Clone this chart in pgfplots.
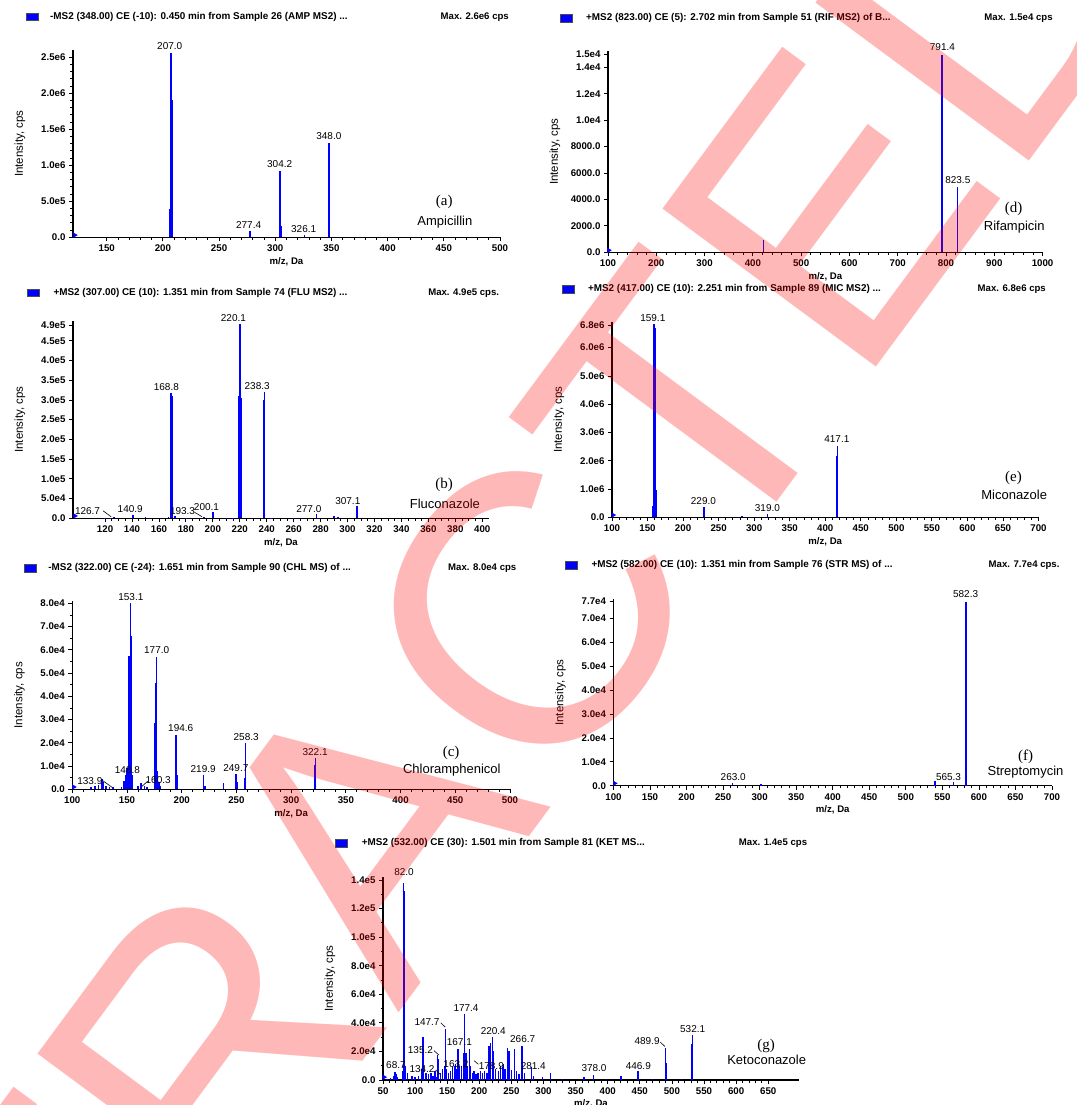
\documentclass[border=0pt]{standalone}
\usepackage{fontspec}
\setmainfont{Liberation Sans}
\newfontfamily\seriffont{Liberation Serif}
\usepackage{pgfplots}
\pgfplotsset{compat=1.18}
\definecolor{msblue}{RGB}{0,0,255}
\newcommand\tl{\bfseries\fontsize{9.7}{10}\selectfont}
\newcommand\pl{\bfseries\fontsize{9.8}{10}\selectfont}
\newcommand\hd{\bfseries\fontsize{9.9}{10}\selectfont}
\newcommand\mx{\bfseries\fontsize{9.6}{10}\selectfont}
\newcommand\cn{\fontsize{13}{13}\selectfont}
\tikzset{lead/.style={black, line width=0.6pt}}
\pgfplotsset{
 ms/.style={
  scale only axis, axis lines=left,
  axis line style={-, black, line width=1.2pt},
  tick align=outside, major tick length=4pt, minor tick length=2.5pt,
  every tick/.style={black, line width=0.8pt},
  ymin=0, clip=false, scaled x ticks=false, scaled y ticks=false,
  tick label style={font=\tl},
  /pgf/number format/assume math mode=true,
  x tick label style={/pgf/number format/.cd, 1000 sep={}, fixed},
  xlabel={m/z, Da}, ylabel={Intensity, cps},
  x label style={at={([yshift=-24pt]axis description cs:0.5,0)}, anchor=center, font=\bfseries\fontsize{9.6}{10}\selectfont},
  y label style={at={([xshift=-53pt]axis description cs:0,0.5)}, anchor=center, font=\fontsize{11.5}{12}\selectfont},
  minor x tick num=4,
  every node/.append style={font=\pl},
 },
 stick/.style={msblue, ycomb, line width=1.6pt, no marks},
 origin/.style={msblue, only marks, mark=triangle*, mark size=2.6pt, mark options={rotate=-90}},
}
\begin{document}
\begin{tikzpicture}[x=1pt,y=1pt]
\useasboundingbox (0,0) rectangle (1076,1105);

% ---------- (a) Ampicillin ----------
\fill[msblue, draw=black!70, line width=0.4pt] (26,1084.5) rectangle (38,1092);
\node[anchor=west, font=\hd, inner sep=0] at (50,1088.3) {-MS2 (348.00) CE (-10): 0.450 min from Sample 26 (AMP MS2) ...};
\node[anchor=east, font=\mx, inner sep=0] at (509,1088.3) {Max. 2.6e6 cps};
\begin{axis}[ms, at={(73pt,867.7pt)}, anchor=south west, width=427pt, height=187.2pt,
  xmin=120, xmax=500, ymax=2.6e6, xtick={150,200,...,500},
  ytick={0,5e5,1e6,1.5e6,2e6,2.5e6}, yticklabels={0.0,5.0e5,1.0e6,1.5e6,2.0e6,2.5e6},
  minor y tick num=4]
\addplot[stick] coordinates {(206,0.39e6)(207,2.564e6)(208,1.907e6)(277.4,0.088e6)(303.6,0.57e6)(304.2,0.925e6)(305,0.15e6)(326.1,0.025e6)(347.6,1.28e6)(348,1.314e6)};
\addplot[origin] coordinates {(121.5,0.03e6)};
\node at (axis cs:206.1,2.661e6) {207.0};
\node at (axis cs:276.3,0.171e6) {277.4};
\node at (axis cs:303.9,1.014e6) {304.2};
\node at (axis cs:325.3,0.111e6) {326.1};
\node at (axis cs:347.7,1.407e6) {348.0};
\end{axis}
\node[font=\seriffont\fontsize{15}{15}\selectfont] at (444.2,903.3) {(a)};
\node[font=\cn] at (444.9,882.7) {Ampicillin};

% ---------- (d) Rifampicin ----------
\fill[msblue, draw=black!70, line width=0.4pt] (560.5,1083) rectangle (572.5,1090.5);
\node[anchor=west, font=\hd, inner sep=0] at (586,1086.7) {+MS2 (823.00) CE (5): 2.702 min from Sample 51 (RIF MS2) of B...};
\node[anchor=east, font=\mx, inner sep=0] at (1052.8,1086.7) {Max. 1.5e4 cps};
\begin{axis}[ms, at={(608pt,852.7pt)}, anchor=south west, width=434.6pt, height=200.9pt,
  xmin=100, xmax=1000, ymax=15200, xtick={100,200,...,1000},
  ytick={0,2000,4000,6000,8000,10000,12000,14000,15000},
  yticklabels={0.0,2000.0,4000.0,6000.0,8000.0,1.0e4,1.2e4,1.4e4,1.5e4},
  minor y tick num=3]
\addplot[stick, line width=1.3pt] coordinates {(422,930)(791.4,14950)(823.5,4960)};
\addplot[origin] coordinates {(101.5,150)};
\node at (axis cs:792.5,15500) {791.4};
\node at (axis cs:824.4,5470) {823.5};
\end{axis}
\node[font=\seriffont\fontsize{15}{15}\selectfont] at (1013.5,895.7) {(d)};
\node[font=\cn] at (1014.2,877.7) {Rifampicin};

% ---------- (b) Fluconazole ----------
\fill[msblue, draw=black!70, line width=0.4pt] (27.5,808.5) rectangle (39.6,816);
\node[anchor=west, font=\hd, inner sep=0] at (53.4,812.3) {+MS2 (307.00) CE (10): 1.351 min from Sample 74 (FLU MS2) ...};
\node[anchor=east, font=\mx, inner sep=0] at (499.3,812.3) {Max. 4.9e5 cps.};
\begin{axis}[ms, at={(73pt,586.7pt)}, anchor=south west, width=416pt, height=197.3pt,
  xmin=96.2, xmax=405, ymax=5.0e5, xtick={120,140,...,400}, minor x tick num=3,
  ytick={0,5e4,1e5,1.5e5,2e5,2.5e5,3e5,3.5e5,4e5,4.5e5,4.9e5},
  yticklabels={0.0,5.0e4,1.0e5,1.5e5,2.0e5,2.5e5,3.0e5,3.5e5,4.0e5,4.5e5,4.9e5},
  minor y tick num=1]
\addplot[stick] coordinates {(120,0.01e5)(124,0.02e5)(126.7,0.03e5)(140.9,0.08e5)(150,0.03e5)(167,0.04e5)(168.8,3.17e5)(169.6,3.1e5)(172,0.05e5)(180,0.01e5)(193.3,0.03e5)(200.1,0.165e5)(210,0.02e5)(215,0.01e5)(219.4,3.1e5)(220.1,4.93e5)(220.9,3.05e5)(237.6,3.0e5)(238.3,3.21e5)(243,0.02e5)(260,0.01e5)(277,0.1e5)(290,0.06e5)(293,0.03e5)(307.1,0.31e5)};
\addplot[origin] coordinates {(97.6,0.06e5)};
\node at (axis cs:107,0.193e5) {126.7};
\draw[lead] (axis cs:118.5,0.19e5) -- (axis cs:124.5,0.04e5);
\node at (axis cs:138.7,0.228e5) {140.9};
\node at (axis cs:165.5,3.32e5) {168.8};
\node at (axis cs:177.5,0.185e5) {193.3};
\draw[lead] (axis cs:186.5,0.15e5) -- (axis cs:192,0.04e5);
\node at (axis cs:195.3,0.294e5) {200.1};
\node at (axis cs:215.3,5.07e5) {220.1};
\node at (axis cs:232.9,3.35e5) {238.3};
\node at (axis cs:271.3,0.243e5) {277.0};
\node at (axis cs:300.2,0.44e5) {307.1};
\end{axis}
\node[font=\seriffont\fontsize{15}{15}\selectfont] at (444.2,620) {(b)};
\node[font=\cn] at (444.9,601) {Fluconazole};

% ---------- (e) Miconazole ----------
\fill[msblue, draw=black!70, line width=0.4pt] (562,811.9) rectangle (574,819.4);
\node[anchor=west, font=\hd, inner sep=0] at (587.9,815.7) {+MS2 (417.00) CE (10): 2.251 min from Sample 89 (MIC MS2) ...};
\node[anchor=east, font=\mx, inner sep=0] at (1046,815.7) {Max. 6.8e6 cps};
\begin{axis}[ms, at={(612pt,587.7pt)}, anchor=south west, width=426.5pt, height=195.1pt,
  xmin=100, xmax=700, ymax=6.9e6, xtick={100,150,...,700},
  ytick={0,1e6,2e6,3e6,4e6,5e6,6e6,6.8e6},
  yticklabels={0.0,1.0e6,2.0e6,3.0e6,4.0e6,5.0e6,6.0e6,6.8e6},
  minor y tick num=4]
\addplot[stick] coordinates {(157.5,0.4e6)(158.6,6.7e6)(159.1,6.83e6)(160.2,6.7e6)(161,1.86e6)(162,0.95e6)(228.5,0.3e6)(229,0.38e6)(283,0.05e6)(319,0.12e6)(416.3,2.18e6)(417.1,2.53e6)};
\addplot[origin] coordinates {(101.5,0.08e6)};
\node at (axis cs:157.4,7.04e6) {159.1};
\node at (axis cs:228.6,0.59e6) {229.0};
\node at (axis cs:318.6,0.34e6) {319.0};
\node at (axis cs:416.3,2.76e6) {417.1};
\end{axis}
\node[font=\seriffont\fontsize{15}{15}\selectfont] at (1013.5,626.7) {(e)};
\node[font=\cn] at (1014.2,610) {Miconazole};

% ---------- (c) Chloramphenicol ----------
\fill[msblue, draw=black!70, line width=0.4pt] (24,532.9) rectangle (36,540.4);
\node[anchor=west, font=\hd, inner sep=0] at (48.2,536.7) {-MS2 (322.00) CE (-24): 1.651 min from Sample 90 (CHL MS) of ...};
\node[anchor=east, font=\mx, inner sep=0] at (516.5,536.7) {Max. 8.0e4 cps};
\begin{axis}[ms, at={(72.3pt,315.7pt)}, anchor=south west, width=437.7pt, height=188.3pt,
  xmin=100, xmax=500, ymax=8.1e4, xtick={100,150,...,500},
  ytick={0,1e4,2e4,3e4,4e4,5e4,6e4,7e4,8e4},
  yticklabels={0.0,1.0e4,2.0e4,3.0e4,4.0e4,5.0e4,6.0e4,7.0e4,8.0e4},
  minor y tick num=1]
\addplot[stick] coordinates {(117,0.1e4)(121,0.15e4)(124,0.2e4)(127,0.45e4)(128,0.3e4)(131,0.15e4)(134,0.12e4)(137,0.08e4)(145,0.1e4)(147,0.35e4)(148.8,0.6e4)(150,0.9e4)(152,5.75e4)(153.1,8.0e4)(154,6.6e4)(155,0.6e4)(160.3,0.15e4)(163,0.25e4)(166,0.15e4)(168,0.1e4)(175.8,2.86e4)(176.3,4.56e4)(177,5.7e4)(178,0.8e4)(179,0.3e4)(180,0.15e4)(194.2,2.0e4)(194.6,2.34e4)(196,0.6e4)(219.9,0.62e4)(221,0.15e4)(238,0.25e4)(249.7,0.64e4)(250.5,0.3e4)(257.5,0.5e4)(258.3,1.98e4)(321.5,1.05e4)(322.1,1.36e4)};
\addplot[origin] coordinates {(101.3,0.1e4)};
\node at (axis cs:116,0.37e4) {133.9};
\draw[lead] (axis cs:127,0.4e4) -- (axis cs:136.5,0.08e4);
\node at (axis cs:150.4,0.83e4) {148.8};
\node at (axis cs:153.5,8.26e4) {153.1};
\node at (axis cs:178.5,0.4e4) {160.3};
\draw[lead] (axis cs:169,0.35e4) -- (axis cs:163.5,0.12e4);
\node at (axis cs:177.1,5.99e4) {177.0};
\node at (axis cs:199.1,2.62e4) {194.6};
\node at (axis cs:219.6,0.86e4) {219.9};
\node at (axis cs:249.5,0.9e4) {249.7};
\node at (axis cs:258.9,2.24e4) {258.3};
\node at (axis cs:321.9,1.62e4) {322.1};
\end{axis}
\node[font=\seriffont\fontsize{15}{15}\selectfont] at (451.1,351.7) {(c)};
\node[font=\cn] at (451.8,335) {Chloramphenicol};

% ---------- (f) Streptomycin ----------
\fill[msblue, draw=black!70, line width=0.4pt] (565.6,536.2) rectangle (577,543.7);
\node[anchor=west, font=\hd, inner sep=0] at (591.3,540) {+MS2 (582.00) CE (10): 1.351 min from Sample 76 (STR MS) of ...};
\node[anchor=east, font=\mx, inner sep=0] at (1059.7,540) {Max. 7.7e4 cps.};
\begin{axis}[ms, at={(613.5pt,319.3pt)}, anchor=south west, width=438.5pt, height=186.4pt,
  xmin=100, xmax=700, ymax=7.8e4, xtick={100,150,...,700},
  ytick={0,1e4,2e4,3e4,4e4,5e4,6e4,7e4,7.7e4},
  yticklabels={0.0,1.0e4,2.0e4,3.0e4,4.0e4,5.0e4,6.0e4,7.0e4,7.7e4},
  minor y tick num=1]
\addplot[stick, line width=1.3pt] coordinates {(263,0.1e4)(302,0.08e4)(540,0.2e4)(565.3,0.15e4)(582.3,7.68e4)(583.2,0.25e4)};
\addplot[origin] coordinates {(101.5,0.1e4)};
\node at (axis cs:581.8,8.02e4) {582.3};
\node at (axis cs:263.8,0.35e4) {263.0};
\node at (axis cs:558.4,0.38e4) {565.3};
\end{axis}
\node[font=\seriffont\fontsize{15}{15}\selectfont] at (1025.5,348.3) {(f)};
\node[font=\cn] at (1025.5,332.7) {Streptomycin};

% ---------- (g) Ketoconazole ----------
\fill[msblue, draw=black!70, line width=0.4pt] (335,258.2) rectangle (346.7,265.7);
\node[anchor=west, font=\hd, inner sep=0] at (361.7,262) {+MS2 (532.00) CE (30): 1.501 min from Sample 81 (KET MS...};
\node[anchor=east, font=\mx, inner sep=0] at (807.3,262) {Max. 1.4e5 cps};
\begin{axis}[ms, at={(383pt,25pt)}, anchor=south west, width=416pt, height=202.9pt,
  xmin=50, xmax=698, ymax=1.42e5, xtick={50,100,...,650},
  ytick={0,2e4,4e4,6e4,8e4,1e5,1.2e5,1.4e5},
  yticklabels={0.0,2.0e4,4.0e4,6.0e4,8.0e4,1.0e5,1.2e5,1.4e5},
  minor y tick num=1]
\addplot[stick, line width=1.4pt] coordinates {(56,0.1e4)(62,0.15e4)(66,0.3e4)(68.7,0.58e4)(70,0.4e4)(72,0.2e4)(80,0.6e4)(82,13.8e4)(83,13.2e4)(85,1.0e4)(88,0.5e4)(95,0.3e4)(100,0.2e4)(105,0.3e4)(110,0.8e4)(112,3.0e4)(113,2.0e4)(117,0.5e4)(121,0.4e4)(125,0.5e4)(128,0.3e4)(131,0.6e4)(134.2,0.2e4)(135.2,1.75e4)(136,1.5e4)(140,0.5e4)(143,0.8e4)(146,1.0e4)(147.7,3.6e4)(149,0.8e4)(152,0.5e4)(155,0.6e4)(158,0.9e4)(161,1.0e4)(163.2,1.1e4)(165,0.8e4)(167.1,2.2e4)(169,1.0e4)(172,1.0e4)(175,1.9e4)(177.4,4.6e4)(179,1.9e4)(182,1.0e4)(185,2.15e4)(186,1.0e4)(189,0.5e4)(192,0.6e4)(195,0.4e4)(198,0.5e4)(202,0.6e4)(205,0.5e4)(208,0.6e4)(212,0.5e4)(215,2.4e4)(217,2.6e4)(220.4,3.0e4)(222,2.0e4)(225,0.8e4)(230,0.6e4)(233,1.0e4)(236,0.9e4)(238,1.1e4)(240,0.8e4)(244,2.26e4)(246,2.0e4)(250,0.7e4)(255,2.15e4)(258,0.6e4)(262,0.4e4)(266.7,2.4e4)(270,0.5e4)(281.4,0.9e4)(284,0.3e4)(298,0.2e4)(311,0.5e4)(330,0.1e4)(363,0.2e4)(378,0.35e4)(398,0.1e4)(421,0.3e4)(446.9,0.6e4)(470,0.1e4)(489.9,2.26e4)(491,1.2e4)(515,0.1e4)(531.4,2.5e4)(532.1,3.15e4)};
\addplot[origin] coordinates {(51.5,0.2e4)};
\node at (axis cs:82.7,14.53e4) {82.0};
\node at (axis cs:70.2,1.05e4) {68.7};
\node at (axis cs:110.8,0.75e4) {134.2};
\draw[lead] (axis cs:132,0.7e4) -- (axis cs:139,0.4e4);
\node at (axis cs:108.3,2.1e4) {135.2};
\draw[lead] (axis cs:129.5,2.05e4) -- (axis cs:137,1.75e4);
\node at (axis cs:118.6,4.06e4) {147.7};
\draw[lead] (axis cs:140,4.0e4) -- (axis cs:147,3.7e4);
\node at (axis cs:163.7,1.1e4) {163.2};
\node at (axis cs:168.9,2.64e4) {167.1};
\node at (axis cs:179.3,5.02e4) {177.4};
\node at (axis cs:218.7,0.98e4) {178.9};
\draw[lead] (axis cs:198.5,1.1e4) -- (axis cs:192,1.35e4);
\node at (axis cs:221.8,3.45e4) {220.4};
\node at (axis cs:267.6,2.85e4) {266.7};
\node at (axis cs:284.1,0.98e4) {281.4};
\node at (axis cs:378.7,0.82e4) {378.0};
\node at (axis cs:447.7,0.98e4) {446.9};
\node at (axis cs:461.3,2.73e4) {489.9};
\draw[lead] (axis cs:482,2.65e4) -- (axis cs:489,2.35e4);
\node at (axis cs:532.4,3.57e4) {532.1};
\end{axis}
\node[font=\seriffont\fontsize{15}{15}\selectfont] at (766,59) {(g)};
\node[font=\cn] at (766.7,45) {Ketoconazole};

% ---------- watermark ----------
\begin{scope}
\clip (0,0) rectangle (1076,1105);
\node[rotate=53.5, anchor=base, inner sep=0, text=red, opacity=0.28] at (475,195) {\fontsize{386}{386}\selectfont RETRACTED};
\end{scope}
\end{tikzpicture}
\end{document}
